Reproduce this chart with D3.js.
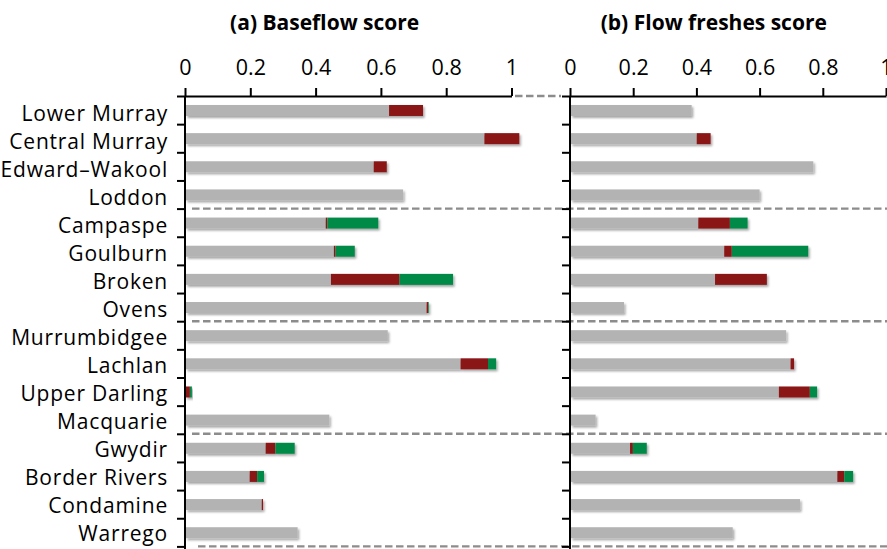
<!DOCTYPE html>
<html><head><meta charset="utf-8">
<script src="https://cdn.jsdelivr.net/npm/d3@7"></script>
<style>
body{margin:0;background:#fff;}
svg{display:block;font-family:"Open Sans",sans-serif;}
</style></head>
<body><svg id="chart" width="887" height="549"></svg>
<script>
const categories = ["Lower Murray","Central Murray","Edward\u2013Wakool","Loddon","Campaspe","Goulburn","Broken","Ovens","Murrumbidgee","Lachlan","Upper Darling","Macquarie","Gwydir","Border Rivers","Condamine","Warrego"];
const baseflowGray  = [0.625,0.917,0.578,0.668,0.431,0.456,0.447,0.740,0.621,0.844,0.002,0.442,0.247,0.198,0.235,0.345];
const baseflowRed   = [0.104,0.107,0.040,0,    0.005,0.005,0.210,0.005,0,    0.084,0.013,0,    0.030,0.023,0.004,0];
const baseflowGreen = [0,    0,    0,    0,    0.156,0.059,0.164,0.002,0,    0.025,0.006,0,    0.059,0.021,0,    0];
const freshesGray   = [0.385,0.401,0.770,0.600,0.406,0.488,0.459,0.171,0.684,0.698,0.661,0.081,0.190,0.846,0.728,0.515];
const freshesRed    = [0,    0.044,0,    0,    0.100,0.024,0.164,0,    0,    0.011,0.098,0,    0.009,0.022,0,    0];
const freshesGreen  = [0,    0,    0,    0,    0.056,0.242,0,    0,    0,    0,    0.023,0,    0.044,0.028,0,    0];
const xTicks = [0,0.2,0.4,0.6,0.8,1];
const groupBreaks = [4,8,12,16];
const titles = ["(a) Baseflow score","(b) Flow freshes score"];

const svg = d3.select("#chart");
const defs = svg.append("defs");
const f = defs.append("filter").attr("id","shadow").attr("x","-5%").attr("y","-40%").attr("width","115%").attr("height","220%");
f.append("feDropShadow").attr("dx",1.5).attr("dy",2).attr("stdDeviation",1.2).attr("flood-color","#000").attr("flood-opacity",0.35);

const plotTop = 96, plotBottom = 546.4;
const y = d3.scaleBand().domain(categories).range([plotTop,plotBottom]).padding(0);
const yIdx = d3.scaleLinear().domain([0,categories.length]).range([plotTop,plotBottom]);
const barH = 11;
const colors = ["#b3b3b3","#8a1719","#008a47"];
const keys = ["gray","red","green"];

const panels = [
  {x: d3.scaleLinear().domain([0,1]).range([185,511.5]), g: baseflowGray, r: baseflowRed, gr: baseflowGreen, title: titles[0], tx: 324.7},
  {x: d3.scaleLinear().domain([0,1]).range([570,886]), g: freshesGray, r: freshesRed, gr: freshesGreen, title: titles[1], tx: 713.8}
];

// dashed group separators
groupBreaks.forEach((b,i)=>{
  svg.append("line").attr("x1", i===3?198:192).attr("x2",887)
    .attr("y1",yIdx(b)).attr("y2",yIdx(b))
    .attr("stroke","#8c8c8c").attr("stroke-width",2.4).attr("stroke-dasharray","7.5,3.5");
});
// dashed extension of top axis
svg.append("line").attr("x1",515).attr("x2",561).attr("y1",plotTop).attr("y2",plotTop)
  .attr("stroke","#8c8c8c").attr("stroke-width",2.4).attr("stroke-dasharray","7.5,3.5");

panels.forEach((p,pi)=>{
  const rows = categories.map((c,i)=>({cat:c, gray:p.g[i], red:p.r[i], green:p.gr[i]}));
  const stacked = d3.stack().keys(keys)(rows);
  const gRows = svg.append("g");
  rows.forEach((row,i)=>{
    const rg = gRows.append("g").attr("filter","url(#shadow)");
    stacked.forEach((s,k)=>{
      const d = s[i];
      if (d[1]-d[0] <= 0) return;
      rg.append("rect")
        .attr("x", p.x(d[0]) + (k===0?1:0))
        .attr("width", Math.max(0, p.x(d[1]) - p.x(d[0]) - (k===0?1:0)))
        .attr("y", y(row.cat) + y.bandwidth()/2 - barH/2 + 0.4)
        .attr("height", barH)
        .attr("fill", colors[k]);
    });
  });

  // top axis
  const ax = svg.append("g").attr("transform",`translate(0,${plotTop})`)
    .call(d3.axisTop(p.x).tickValues(xTicks).tickFormat(d3.format("")).tickSize(8).tickSizeOuter(0).tickPadding(13));
  ax.selectAll("path,line").attr("stroke","#000").attr("stroke-width",2);
  ax.selectAll("text").attr("font-size",21.5).attr("fill","#000").attr("font-family","'Open Sans',sans-serif");

  // left axis
  const ay = svg.append("g").attr("transform",`translate(${p.x(0)},0)`)
    .call(d3.axisLeft(yIdx).tickValues(d3.range(0,categories.length+1)).tickFormat("").tickSize(8).tickSizeOuter(0));
  ay.select("path").attr("d",`M0,${plotTop}V549`);
  ay.selectAll("path,line").attr("stroke","#000").attr("stroke-width",2);

  // title
  svg.append("text").attr("x",p.tx).attr("y",30).attr("text-anchor","middle")
    .attr("font-size",21).attr("font-weight","bold").attr("fill","#000").text(p.title);
});

// category labels
svg.append("g").selectAll("text").data(categories).join("text")
  .attr("x",168).attr("y",(d,i)=>y(d)+y.bandwidth()/2+11.3-i*0.18)
  .attr("text-anchor","end").attr("font-size",21).attr("letter-spacing",0.8)
  .attr("fill","#000").text(d=>d);
</script></body></html>
